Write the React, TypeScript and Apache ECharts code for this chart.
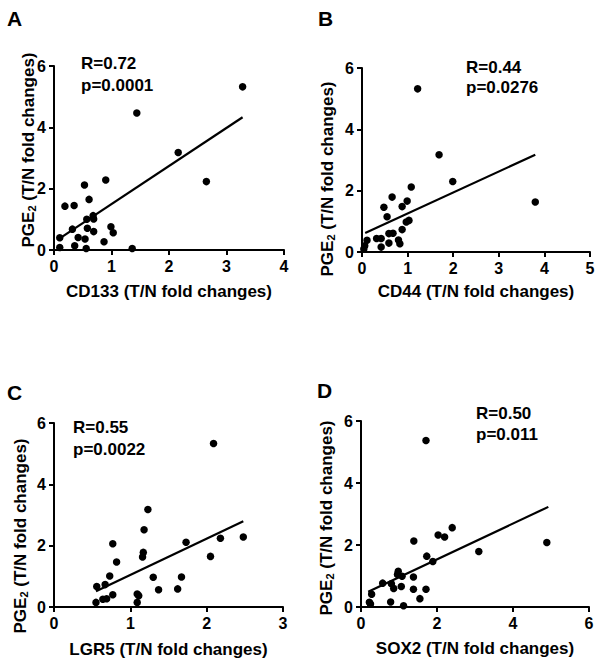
import React, { useEffect, useRef } from "react";
import * as echarts from "echarts";

const FONT = "'Liberation Sans', Arial, Helvetica, sans-serif";

// Panel A: CD133 vs PGE2
const cd133Points: number[][] = [
  [3.28, 5.32], [1.44, 4.47], [2.16, 3.18], [2.65, 2.23], [0.9, 2.28],
  [0.53, 2.12], [0.19, 1.43], [0.35, 1.45], [0.61, 1.65], [0.68, 1.12],
  [0.69, 1.01], [0.57, 1.0], [0.58, 0.71], [0.69, 0.6], [0.32, 0.68],
  [0.1, 0.4], [0.42, 0.41], [0.54, 0.36], [0.36, 0.14], [0.1, 0.08],
  [0.56, 0.05], [0.87, 0.27], [0.99, 0.76], [1.03, 0.56], [1.36, 0.05],
];
const cd133Fit: number[][] = [[0.06, 0.33], [3.28, 4.33]];

// Panel B: CD44 vs PGE2
const cd44Points: number[][] = [
  [1.22, 5.32], [1.69, 3.17], [1.99, 2.3], [3.8, 1.63], [1.08, 2.12],
  [0.66, 1.79], [0.48, 1.46], [0.99, 1.66], [0.88, 1.48], [0.55, 1.15],
  [1.03, 1.03], [0.97, 0.98], [0.88, 0.73], [0.59, 0.6], [0.68, 0.61],
  [0.32, 0.44], [0.42, 0.44], [0.11, 0.38], [0.8, 0.39], [0.83, 0.27],
  [0.59, 0.29], [0.42, 0.16], [0.06, 0.2], [0.04, 0.1],
];
const cd44Fit: number[][] = [[0.07, 0.62], [3.8, 3.17]];

// Panel C: LGR5 vs PGE2
const lgr5Points: number[][] = [
  [2.09, 5.33], [1.23, 3.18], [1.18, 2.52], [0.77, 2.06], [1.17, 1.78],
  [1.16, 1.63], [0.82, 1.47], [1.73, 2.11], [2.18, 2.24], [2.48, 2.28],
  [2.05, 1.65], [0.73, 1.01], [1.3, 0.97], [1.67, 0.98], [0.56, 0.67],
  [0.67, 0.73], [1.37, 0.56], [1.62, 0.59], [0.77, 0.4], [0.64, 0.25],
  [0.69, 0.27], [1.09, 0.42], [1.11, 0.37], [0.55, 0.15], [1.09, 0.15],
];
const lgr5Fit: number[][] = [[0.55, 0.51], [2.48, 2.8]];

// Panel D: SOX2 vs PGE2
const sox2Points: number[][] = [
  [1.71, 5.37], [2.4, 2.56], [2.03, 2.32], [2.2, 2.26], [1.39, 2.13],
  [4.89, 2.08], [3.1, 1.79], [1.73, 1.64], [1.89, 1.47], [0.98, 1.15],
  [0.96, 1.05], [1.08, 0.99], [1.38, 0.97], [0.57, 0.77], [0.8, 0.75],
  [0.86, 0.6], [1.06, 0.66], [1.38, 0.57], [1.71, 0.57], [1.55, 0.27],
  [0.28, 0.41], [0.22, 0.15], [0.25, 0.1], [0.78, 0.16], [1.12, 0.04],
];
const sox2Fit: number[][] = [[0.19, 0.49], [4.93, 3.23]];

const panelLetters = ["A", "B", "C", "D"];
const xAxisNames = [
  "CD133 (T/N fold changes)",
  "CD44 (T/N fold changes)",
  "LGR5 (T/N fold changes)",
  "SOX2 (T/N fold changes)",
];
const yAxisNameRich = "{a|PGE}{s|2}{a| (T/N fold changes)}";
const xMaxes = [4, 5, 3, 6];
const xIntervals = [1, 1, 1, 2];
const yMax = 6;
const yInterval = 2;
const rLabels = ["R=0.72", "R=0.44", "R=0.55", "R=0.50"];
const pLabels = ["p=0.0001", "p=0.0276", "p=0.0022", "p=0.011"];

const pointSets = [cd133Points, cd44Points, lgr5Points, sox2Points];
const fitSets = [cd133Fit, cd44Fit, lgr5Fit, sox2Fit];

// layout
const grids = [
  { left: 54, top: 66, width: 230, height: 184 },
  { left: 362, top: 68, width: 228, height: 184 },
  { left: 54, top: 423, width: 229, height: 184 },
  { left: 361, top: 421, width: 228, height: 186 },
];
const xNameGaps = [33, 31, 34, 33];
const letterPos = [[7, 18], [318, 18], [7, 392], [317, 390]];
const rPos = [[81, 63], [466, 67], [73, 427], [476, 413]];
const pPos = [[81, 85], [466, 87], [73, 449], [476, 434]];
const yNamePos = [[27, 150], [326, 179], [19, 536], [325, 518]];

export default function App() {
  const ref = useRef<HTMLDivElement>(null);
  useEffect(() => {
    if (!ref.current) return;
    const chart = echarts.init(ref.current, undefined, { renderer: "svg" });
    const graphics: any[] = [];
    const txt = (x: number, y: number, text: string, size: number) => ({
      type: "text",
      x,
      y,
      style: {
        text,
        fontSize: size,
        fontWeight: "bold",
        fontFamily: FONT,
        fill: "#000",
        align: "left",
        verticalAlign: "middle",
      },
    });
    for (let i = 0; i < 4; i++) {
      graphics.push(txt(letterPos[i][0], letterPos[i][1], panelLetters[i], 21));
      graphics.push(txt(rPos[i][0], rPos[i][1], rLabels[i], 17));
      graphics.push(txt(pPos[i][0], pPos[i][1], pLabels[i], 17));
      graphics.push({
        type: "text",
        x: yNamePos[i][0],
        y: yNamePos[i][1],
        rotation: Math.PI / 2,
        style: {
          text: yAxisNameRich,
          fill: "#000",
          align: "center",
          verticalAlign: "middle",
          rich: {
            a: { fontSize: 17, fontWeight: "bold", fontFamily: FONT, fill: "#000", lineHeight: 20, verticalAlign: "bottom" },
            s: { fontSize: 11, fontWeight: "bold", fontFamily: FONT, fill: "#000", lineHeight: 8, verticalAlign: "bottom" },
          },
        },
      });
    }

    const xAxes = grids.map((_, i) => ({
      type: "value",
      gridIndex: i,
      min: 0,
      max: xMaxes[i],
      interval: xIntervals[i],
      axisLine: { show: true, onZero: false, lineStyle: { color: "#000", width: 2 } },
      axisTick: { show: true, length: 5, lineStyle: { color: "#000", width: 2 } },
      axisLabel: { color: "#000", fontSize: 16, fontWeight: "bold", fontFamily: FONT, margin: 8 },
      splitLine: { show: false },
      name: xAxisNames[i],
      nameLocation: "middle",
      nameGap: xNameGaps[i],
      nameTextStyle: { color: "#000", fontSize: 17, fontWeight: "bold", fontFamily: FONT },
    }));
    const yAxes = grids.map((_, i) => ({
      type: "value",
      gridIndex: i,
      min: 0,
      max: yMax,
      interval: yInterval,
      axisLine: { show: true, onZero: false, lineStyle: { color: "#000", width: 2 } },
      axisTick: { show: true, length: 5, lineStyle: { color: "#000", width: 2 } },
      axisLabel: { color: "#000", fontSize: 16, fontWeight: "bold", fontFamily: FONT, margin: 8 },
      splitLine: { show: false },
    }));

    const option: any = {
      animation: false,
      backgroundColor: "#fff",
      grid: grids.map((g) => ({ ...g })),
      xAxis: xAxes,
      yAxis: yAxes,
      series: [
        ...pointSets.map((pts, i) => ({
          type: "scatter",
          xAxisIndex: i,
          yAxisIndex: i,
          data: pts,
          symbol: "circle",
          symbolSize: 7.5,
          itemStyle: { color: "#000", opacity: 1 },
        })),
        ...fitSets.map((pts, i) => ({
          type: "line",
          xAxisIndex: i,
          yAxisIndex: i,
          data: pts,
          showSymbol: false,
          symbol: "none",
          lineStyle: { color: "#000", width: 2.2 },
        })),
      ],
      graphic: graphics,
    };
    chart.setOption(option);
    return () => chart.dispose();
  }, []);
  return (
    <div
      ref={ref}
      style={{ position: "fixed", left: 0, top: 0, width: 602, height: 665, background: "#fff" }}
    />
  );
}
